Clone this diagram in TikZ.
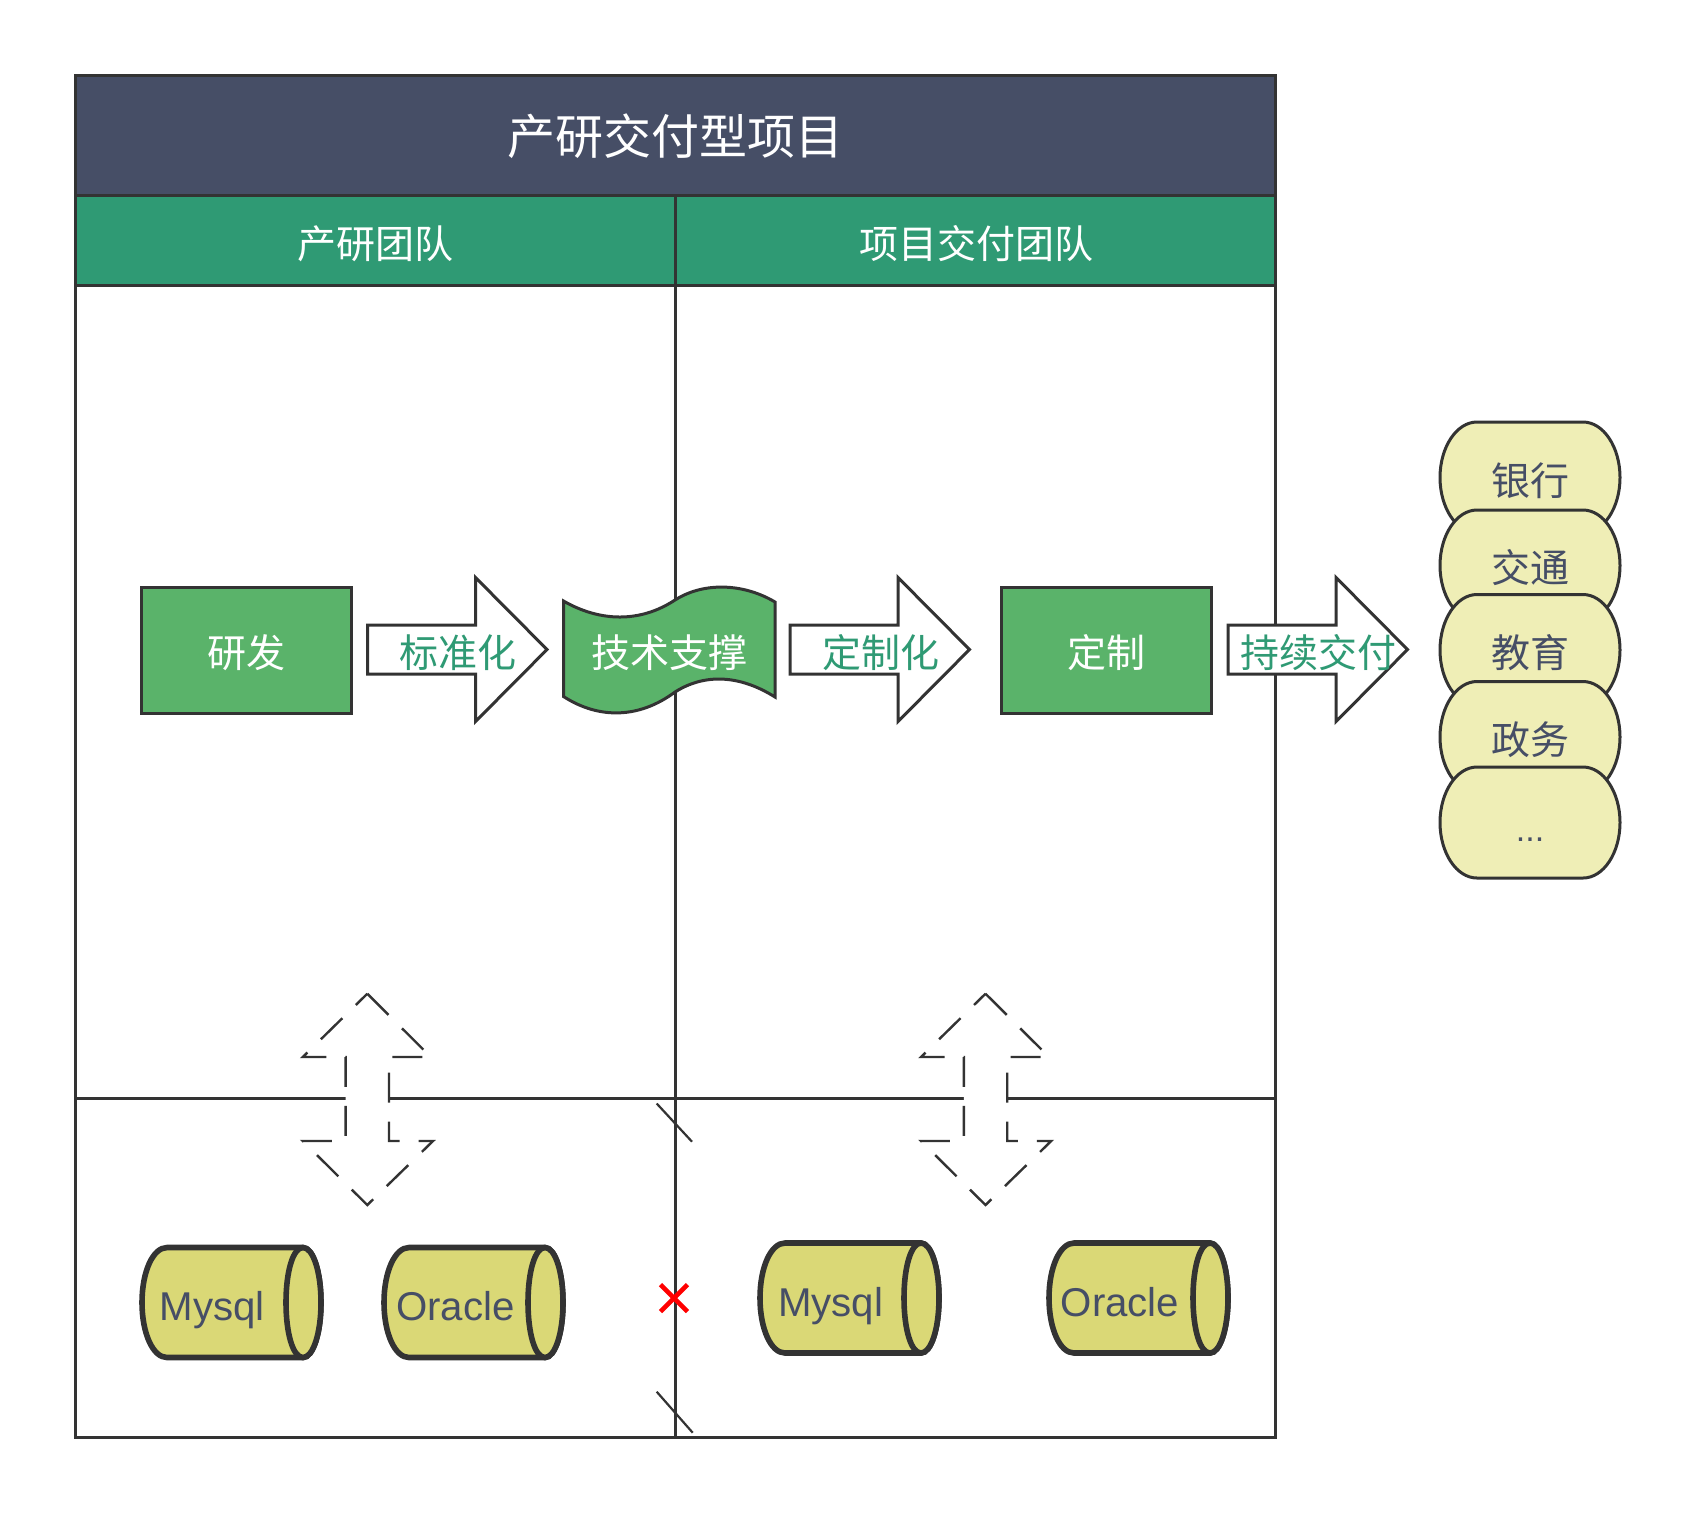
\documentclass[tikz,border=0pt]{standalone}
\usepackage{fontspec}
\setmainfont{Noto Sans CJK SC}
\newfontfamily\latinf{Liberation Sans}
\definecolor{slate}{HTML}{464E66}
\definecolor{teal}{HTML}{2F9A74}
\definecolor{boxgreen}{HTML}{5AB36A}
\definecolor{cream}{HTML}{EFEEB6}
\definecolor{olive}{HTML}{DAD876}
\definecolor{ink}{HTML}{333333}
\tikzset{
  frame/.style={draw=ink,line width=1.5pt},
  thin frame/.style={draw=ink,line width=1.5pt},
  block/.style={frame,fill=boxgreen},
  flow/.style={frame,fill=white,line join=miter},
  stad/.style={frame,fill=cream},
  cyl/.style={draw=ink,line width=2.8pt,fill=olive},
  updown/.style={draw=ink,line width=1.2pt,fill=white,dash pattern=on 15pt off 9.5pt,line join=miter},
  lab/.style={inner sep=0pt,font=\fontsize{19.5}{23}\selectfont},
  white lab/.style={lab,text=white},
  teal lab/.style={lab,text=teal},
  slate lab/.style={lab,text=slate},
  db lab/.style={inner sep=0pt,anchor=base,text=slate,font=\latinf\fontsize{20.1}{23}\selectfont},
}
\newcommand{\flowarrow}[1]{%
  \path[flow] (#1,625) -- ({#1+108},625) -- ({#1+108},577.5) -- ({#1+179.5},649.5)
    -- ({#1+108},721.5) -- ({#1+108},674) -- (#1,674) -- cycle;}
\newcommand{\stadshape}[1]{%
  \path[stad] (1477,#1) -- (1583,#1)
    .. controls (1603.4,#1) and (1620,{#1+25}) .. (1620,{#1+55.5})
    .. controls (1620,{#1+86}) and (1603.4,{#1+111}) .. (1583,{#1+111})
    -- (1477,{#1+111})
    .. controls (1456.6,{#1+111}) and (1440,{#1+86}) .. (1440,{#1+55.5})
    .. controls (1440,{#1+25}) and (1456.6,#1) .. (1477,#1) -- cycle;}
\newcommand{\cylshape}[2]{%
  \path[cyl] ({#1+25},#2)  -- ({#1+161},#2)
    .. controls ({#1+171},#2) and ({#1+179},{#2+24}) .. ({#1+179},{#2+55})
    .. controls ({#1+179},{#2+86}) and ({#1+171},{#2+110}) .. ({#1+161},{#2+110})
    -- ({#1+25},{#2+110})
    .. controls ({#1+11},{#2+110}) and (#1,{#2+86}) .. (#1,{#2+55})
    .. controls (#1,{#2+24}) and ({#1+11},#2) .. ({#1+25},#2) -- cycle;
  \path[cyl] ({#1+161},#2)
    .. controls ({#1+151},#2) and ({#1+144},{#2+24}) .. ({#1+144},{#2+55})
    .. controls ({#1+144},{#2+86}) and ({#1+151},{#2+110}) .. ({#1+161},{#2+110})
    .. controls ({#1+171},{#2+110}) and ({#1+179},{#2+86}) .. ({#1+179},{#2+55})
    .. controls ({#1+179},{#2+24}) and ({#1+171},#2) .. ({#1+161},#2) -- cycle;}
\newcommand{\updownshape}[1]{%
  \path[updown] (#1,993.7) -- ({#1+63.5},1057) -- ({#1+21.7},1057) -- ({#1+21.7},1141)
    -- ({#1+65.7},1141) -- (#1,1205) -- ({#1-64.5},1141) -- ({#1-21.7},1141)
    -- ({#1-21.7},1057) -- ({#1-64.5},1057) -- cycle;}
\begin{document}
\begin{tikzpicture}[x=0.5pt,y=-0.5pt]
\useasboundingbox (0,0) rectangle (1695,1512);
\fill[white] (0,0) rectangle (1695,1512);
% frame
\path[frame,fill=slate] (75,75) rectangle (1275,195);
\path[frame,fill=teal] (75,195) rectangle (675,285);
\path[frame,fill=teal] (675,195) rectangle (1275,285);
\path[frame] (75,285) rectangle (675,1098);
\path[frame] (675,285) rectangle (1275,1098);
\path[thin frame] (75,1098) rectangle (1275,1437);
\path[thin frame] (675,1098) -- (675,1437);
\node[lab,text=white,font=\fontsize{24}{28}\selectfont] (title) at (675.5,136.5) {产研交付型项目};
\node[white lab] (team1) at (375.5,243.5) {产研团队};
\node[white lab] (team2) at (976,243.5) {项目交付团队};
% flow row
\path[block] (141,587) rectangle (351,713);
\node[white lab] (rd) at (246,652.5) {研发};
\flowarrow{367.5}
\node[teal lab] (std) at (457.5,652.5) {标准化};
\path[block] (563.5,601)
  .. controls (600,622) and (640,623) .. (675,600)
  .. controls (705,581) and (745,584) .. (775,602)
  -- (775,697)
  .. controls (740,675) and (705,673) .. (675,692)
  .. controls (640,718) and (600,720) .. (563.5,696.5) -- cycle;
\node[white lab] (tech) at (669,652.5) {技术支撑};
\flowarrow{790}
\node[teal lab] (cust) at (880.5,652.5) {定制化};
\path[block] (1001.5,587) rectangle (1211.5,713);
\node[white lab] (made) at (1106,652.5) {定制};
\flowarrow{1228}
\node[teal lab] (deliver) at (1318.5,652.5) {持续交付};
% clients
\stadshape{422}
\node[slate lab] (c1) at (1530,480.5) {银行};
\stadshape{510}
\node[slate lab] (c2) at (1530,567.5) {交通};
\stadshape{594.5}
\node[slate lab] (c3) at (1530,652.5) {教育};
\stadshape{681.5}
\node[slate lab] (c4) at (1530,739.5) {政务};
\stadshape{767}
\node[db lab,font=\latinf\fontsize{17}{20}\selectfont] (c5) at (1530,841) {...};
% dashed double arrows
\updownshape{367.3}
\updownshape{985.5}
% divider marks
\coordinate (s1a) at (656.7,1103.5);
\coordinate (s1b) at (692,1141.7);
\coordinate (s2a) at (656.7,1391.7);
\coordinate (s2b) at (692.7,1432.7);
\draw[ink,line width=1.1pt] (s1a) -- (s1b);
\draw[ink,line width=1.1pt] (s2a) -- (s2b);
\coordinate (xa) at (660.5,1284.5);
\coordinate (xb) at (687.5,1311.5);
\coordinate (xc) at (660.5,1311.5);
\coordinate (xd) at (687.5,1284.5);
\draw[red,line width=2.3pt] (xa) -- (xb);
\draw[red,line width=2.3pt] (xc) -- (xd);
% databases
\cylshape{142}{1247.5}
\node[db lab] (d1) at (212,1320.5) {Mysql};
\cylshape{384}{1247.5}
\node[db lab] (d2) at (455.5,1320.5) {Oracle};
\cylshape{760}{1243}
\node[db lab] (d3) at (830.5,1316) {Mysql};
\cylshape{1049}{1243}
\node[db lab] (d4) at (1120,1316) {Oracle};
\end{tikzpicture}
\end{document}
